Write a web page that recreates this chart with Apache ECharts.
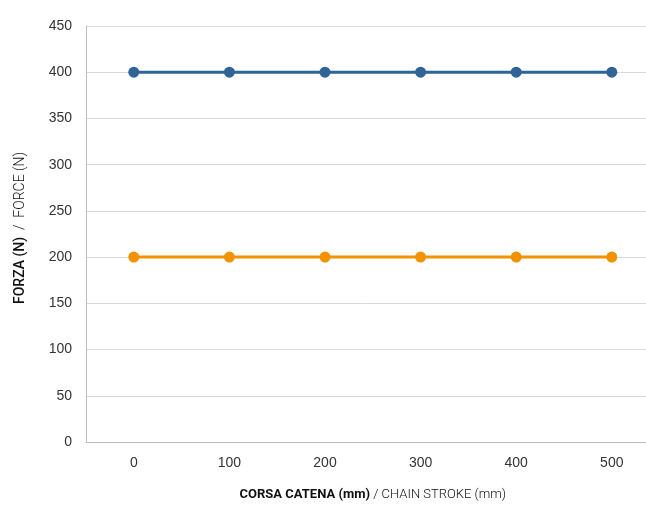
<!DOCTYPE html>
<html><head><meta charset="utf-8">
<script src="https://cdn.jsdelivr.net/npm/echarts@6/dist/echarts.min.js"></script>
<style>html,body{margin:0;padding:0;background:#fff}#c{width:646px;height:505px}</style>
</head><body><div id="c"></div>
<script>
const categories = ['0','100','200','300','400','500'];
const seriesBlue = [400,400,400,400,400,400];
const seriesOrange = [200,200,200,200,200,200];
const yTicks = {min:0, max:450, interval:50};
const FONT = 'Roboto, "Liberation Sans", Arial, sans-serif';
const TICKFONT = '"Liberation Sans", Arial, sans-serif';
const chart = echarts.init(document.getElementById('c'));
chart.setOption({
  animation:false,
  grid:{left:86, top:26, bottom:63, right:-13.6, containLabel:false, outerBoundsMode:'none'},
  xAxis:{
    type:'category', data:categories, boundaryGap:true,
    axisLine:{lineStyle:{color:'#bfbfbf', width:1}},
    axisTick:{show:false},
    axisLabel:{color:'#333', fontFamily:TICKFONT, fontSize:14, margin:14},
    name:'{b|CORSA CATENA (mm)}{n| / CHAIN STROKE (mm)}',
    nameLocation:'middle', nameGap:46,
    nameTextStyle:{rich:{b:{fontFamily:FONT,fontSize:13,fontWeight:'bold',color:'#111'},n:{fontFamily:FONT,fontSize:13,fontWeight:300,color:'#111'}}}
  },
  yAxis:{
    type:'value', min:yTicks.min, max:yTicks.max, interval:yTicks.interval,
    axisLine:{show:true, lineStyle:{color:'#bfbfbf', width:1}},
    axisTick:{show:false},
    splitLine:{lineStyle:{color:'#d9d9d9', width:1}},
    axisLabel:{color:'#333', fontFamily:TICKFONT, fontSize:14, margin:14},
    name:'{b|FORZA (N)}{n|  /  FORCE (N)}',
    nameLocation:'middle', nameGap:59, nameRotate:90,
    nameTextStyle:{padding:[0,0,0,12], rich:{b:{fontFamily:FONT,fontSize:14,fontWeight:500,color:'#111'},n:{fontFamily:FONT,fontSize:14,fontWeight:300,color:'#111'}}}
  },
  series:[
    {type:'line', data:seriesBlue, symbol:'circle', symbolSize:11,
     lineStyle:{color:'#2f6497', width:3}, itemStyle:{color:'#2f6497'}},
    {type:'line', data:seriesOrange, symbol:'circle', symbolSize:11,
     lineStyle:{color:'#f39200', width:3}, itemStyle:{color:'#f39200'}}
  ]
});
</script></body></html>
